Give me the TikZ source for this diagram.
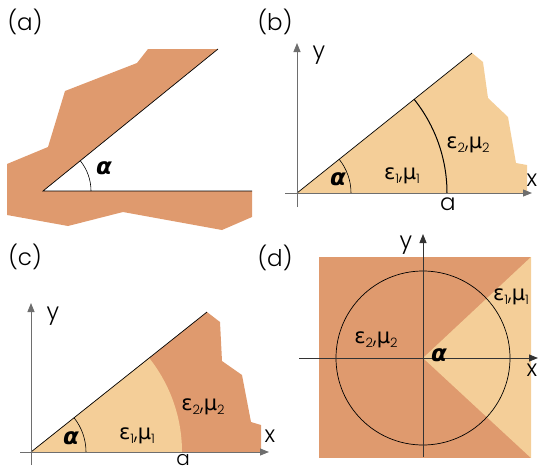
\documentclass[tikz,border=0pt]{standalone}
\usepackage{fontspec}
\setmainfont{Poppins Light}
\newfontfamily\gr{DejaVu Sans}
\usetikzlibrary{arrows.meta}
\definecolor{dark}{RGB}{223,154,110}
\definecolor{light}{RGB}{244,206,152}
\definecolor{axgray}{RGB}{110,110,110}
\newcommand\sbx[1]{\raisebox{-0.35ex}{\fontsize{13}{13}\selectfont #1}}
\newcommand\epmu[1]{{\gr ε}\sbx{#1},{\gr μ}\sbx{#1}}
\newcommand\alp{{\gr\bfseries\itshape α}}
\begin{document}
\begin{tikzpicture}[x=1pt,y=-1pt,
  ax/.style={draw=axgray, line width=0.9pt, -{Triangle[length=9pt,width=7pt]}},
  axd/.style={draw=black!80, line width=0.9pt, -{Triangle[length=9pt,width=7pt]}},
  edge/.style={draw=black, line width=0.7pt},
  lab/.style={inner sep=0pt, font=\fontsize{23}{27}\selectfont},
  gl/.style={inner sep=0pt, font=\fontsize{21}{25}\selectfont},
  al/.style={inner sep=0pt, font=\fontsize{23}{27}\selectfont}]
\useasboundingbox (0,0) rectangle (539,471);
% ---------- (a)
\node[lab] (la) at (25,22) {(a)};
\coordinate (A0) at (43,191);
\coordinate (A1) at (218,49);
\coordinate (A2) at (252,191);
\fill[dark] (A0) -- (A1) -- (148,49) -- (137,63) -- (65,91) -- (48,147) -- (7,164) -- (7,215) -- (68,226) -- (123,212) -- (222,230) -- (252,217) -- (A2) -- cycle;
\draw[edge] (A1) -- (A0) -- (A2);
\draw[line width=0.6pt] ([shift={(0:48)}]A0) arc[start angle=0,end angle=-39.06,radius=48];
\node[al] (aa) at (104,168) {\alp};
% ---------- (b)
\node[lab] (lb) at (275,22) {(b)};
\coordinate (B0) at (297,193);
\coordinate (B1) at (472,53);
\fill[light] (B0) -- (B1) -- (483,62) -- (488,98) -- (508,117) -- (516,163) -- (527,165) -- (527,193) -- cycle;
\draw[edge] (B0) -- (B1);
\draw[line width=1pt] ([shift={(0:150)}]B0) arc[start angle=0,end angle=-38.66,radius=150];
\draw[line width=0.6pt] ([shift={(0:54)}]B0) arc[start angle=0,end angle=-38.66,radius=54];
\coordinate (BxS) at (285,193); \coordinate (BxE) at (532,193);
\coordinate (ByS) at (297,207); \coordinate (ByE) at (297,43);
\draw[ax] (BxS) -- (BxE);
\draw[ax] (ByS) -- (ByE);
\node[lab] (by) at (319,55) {y};
\node[lab] (bx) at (532,180) {x};
\node[lab] (ba) at (448,204) {a};
\node[al] (bal) at (338,179) {\alp};
\node[gl] (be1) at (402,176) {\epmu{1}};
\node[gl] (be2) at (468,145) {\epmu{2}};
% ---------- (c)
\node[lab] (lc) at (25,257) {(c)};
\coordinate (C0) at (31,452);
\coordinate (C1) at (207,312);
\fill[dark] (C0) -- (C1) -- (220,322) -- (222,361) -- (242,375) -- (251,422) -- (261,425) -- (261,452) -- cycle;
\fill[light] (C0) -- ++(0:151) arc[start angle=0,end angle=-38.5,radius=151] -- cycle;
\draw[edge] (C0) -- (C1);
\draw[line width=0.6pt] ([shift={(0:55)}]C0) arc[start angle=0,end angle=-38.5,radius=55];
\coordinate (CxS) at (20,452); \coordinate (CxE) at (269,452);
\coordinate (CyS) at (31,465); \coordinate (CyE) at (31,303);
\draw[ax] (CxS) -- (CxE);
\draw[ax] (CyS) -- (CyE);
\node[lab] (cy) at (53,316) {y};
\node[lab] (cx) at (270,436) {x};
\node[inner sep=0pt, font=\fontsize{20}{24}\selectfont] (ca) at (183,460) {a};
\node[al] (cal) at (71,438) {\alp};
\node[gl] (ce1) at (137,436) {\epmu{1}};
\node[gl] (ce2) at (203,407) {\epmu{2}};
% ---------- (d)
\node[lab] (ld) at (275,258) {(d)};
\coordinate (D0) at (423,358);
\fill[dark] (319,257) rectangle (531,458);
\fill[light] (D0) -- (531,257) -- (531,458) -- cycle;
\draw[edge] (D0) circle[radius=87];
\coordinate (DxS) at (299,358); \coordinate (DxE) at (538,358);
\coordinate (DyS) at (423,457); \coordinate (DyE) at (423,234);
\draw[axd] (DxS) -- (DxE);
\draw[axd] (DyS) -- (DyE);
\node[lab] (dy) at (406,245) {y};
\node[lab] (dx) at (532,370) {x};
\node[al] (dal) at (439,355) {\alp};
\node[gl] (de2) at (376,340) {\epmu{2}};
\node[gl] (de1) at (511,297) {\epmu{1}};
\end{tikzpicture}
\end{document}
